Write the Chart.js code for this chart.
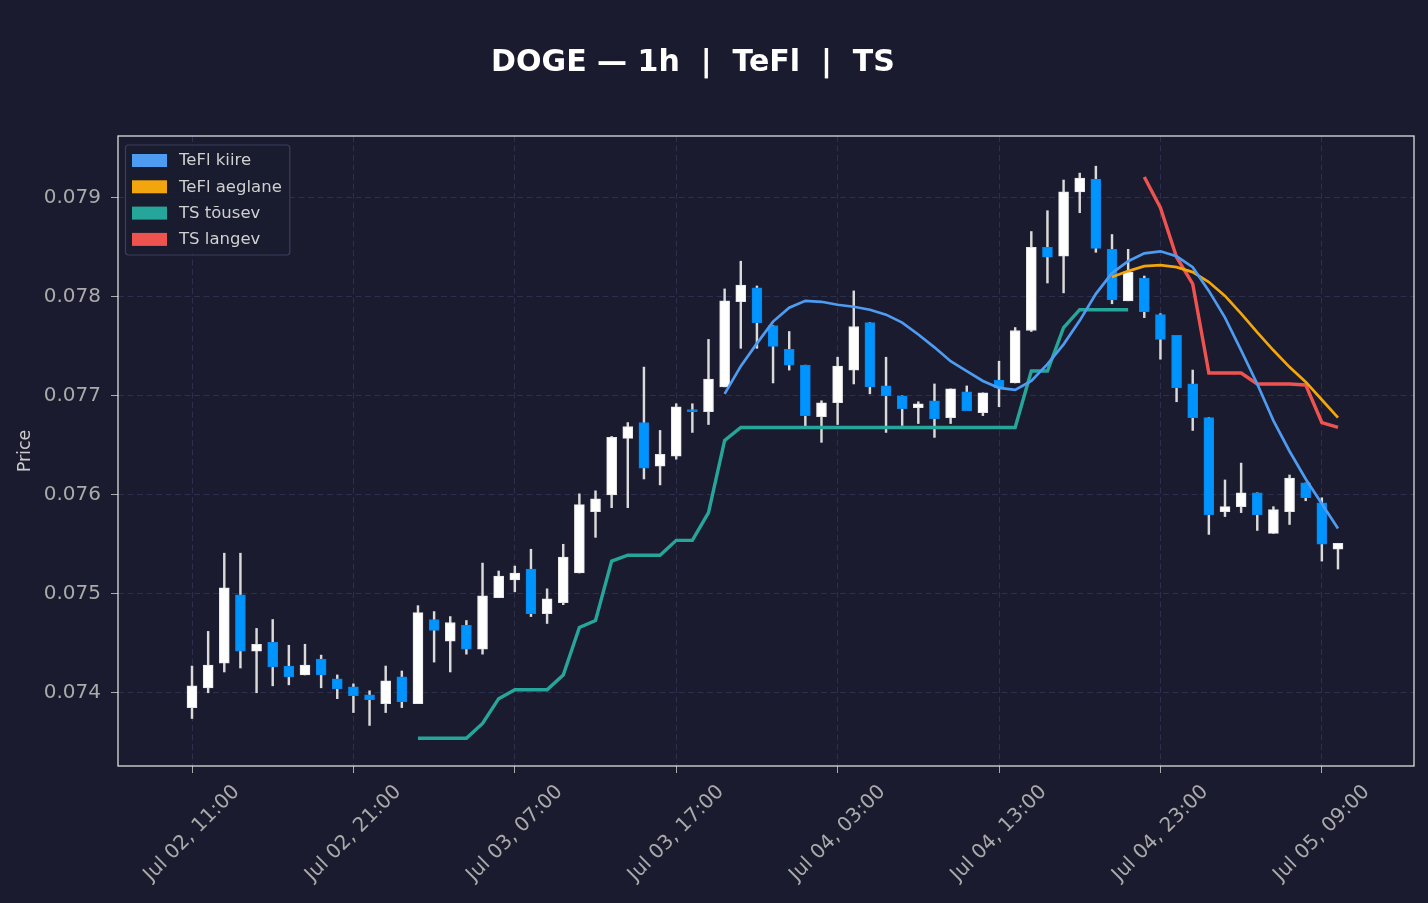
<!DOCTYPE html>
<html>
<head>
<meta charset="utf-8">
<title>DOGE 1h</title>
<script src="https://cdn.jsdelivr.net/npm/chart.js@4.4.1/dist/chart.umd.min.js"></script>
<style>
  html, body { margin: 0; padding: 0; background: #1a1b2e; }
</style>
</head>
<body>
<canvas id="chart" width="1428" height="903"></canvas>
<script>
// hourly candles, index 0 = Jul 02 11:00
const open = [0.07385,0.07405,0.07430,0.07499,0.07442,0.07451,0.07427,0.07418,0.07434,0.07414,
  0.07406,0.07398,0.07389,0.07416,0.07389,0.07474,0.07452,0.07468,0.07444,0.07496,
  0.07514,0.07525,0.07480,0.07491,0.07521,0.07583,0.07600,0.07657,0.07673,0.07629,
  0.07639,0.07686,0.07684,0.07709,0.07795,0.07809,0.07771,0.07747,0.07731,0.07679,
  0.07693,0.07726,0.07774,0.07710,0.07700,0.07688,0.07695,0.07678,0.07704,0.07683,
  0.07716,0.07713,0.07766,0.07850,0.07841,0.07906,0.07919,0.07848,0.07796,0.07819,
  0.07782,0.07761,0.07712,0.07678,0.07583,0.07588,0.07602,0.07561,0.07583,0.07612,
  0.07592,0.07545];
const high = [0.07427,0.07462,0.07541,0.07541,0.07465,0.07474,0.07448,0.07449,0.07438,0.07418,
  0.07409,0.07402,0.07427,0.07422,0.07488,0.07482,0.07477,0.07473,0.07531,0.07523,
  0.07528,0.07545,0.07505,0.07550,0.07601,0.07604,0.07659,0.07673,0.07729,0.07665,
  0.07692,0.07692,0.07757,0.07808,0.07836,0.07811,0.07771,0.07765,0.07731,0.07695,
  0.07739,0.07806,0.07774,0.07739,0.07700,0.07694,0.07712,0.07707,0.07710,0.07703,
  0.07735,0.07769,0.07866,0.07887,0.07918,0.07925,0.07932,0.07863,0.07848,0.07821,
  0.07783,0.07761,0.07726,0.07678,0.07615,0.07632,0.07602,0.07588,0.07620,0.07612,
  0.07597,0.07551];
const low = [0.07374,0.07400,0.07421,0.07425,0.07400,0.07407,0.07408,0.07418,0.07405,0.07394,
  0.07380,0.07367,0.07380,0.07385,0.07389,0.07431,0.07421,0.07439,0.07439,0.07496,
  0.07502,0.07477,0.07470,0.07489,0.07521,0.07557,0.07587,0.07587,0.07616,0.07610,
  0.07636,0.07663,0.07671,0.07709,0.07748,0.07748,0.07713,0.07726,0.07669,0.07653,
  0.07671,0.07712,0.07702,0.07663,0.07670,0.07672,0.07658,0.07672,0.07685,0.07680,
  0.07689,0.07713,0.07765,0.07814,0.07804,0.07885,0.07845,0.07793,0.07796,0.07779,
  0.07737,0.07694,0.07665,0.07560,0.07578,0.07582,0.07564,0.07561,0.07570,0.07594,
  0.07533,0.07525];
const close = [0.07407,0.07428,0.07506,0.07442,0.07449,0.07426,0.07416,0.07428,0.07418,0.07404,
  0.07397,0.07393,0.07412,0.07391,0.07481,0.07463,0.07471,0.07444,0.07498,0.07518,
  0.07521,0.07480,0.07495,0.07537,0.07590,0.07596,0.07658,0.07669,0.07627,0.07641,
  0.07689,0.07684,0.07717,0.07796,0.07812,0.07774,0.07750,0.07731,0.07680,0.07693,
  0.07730,0.07770,0.07709,0.07700,0.07687,0.07692,0.07677,0.07707,0.07685,0.07703,
  0.07708,0.07766,0.07850,0.07840,0.07906,0.07920,0.07849,0.07797,0.07825,0.07785,
  0.07757,0.07708,0.07678,0.07580,0.07588,0.07602,0.07580,0.07585,0.07617,0.07597,
  0.07550,0.07551];

// indicator lines, each begins at the given candle index
const fastStart = 33;
const fast = [0.07702,0.07730,0.07753,0.07775,0.07789,0.07796,0.07795,0.07792,0.07790,0.07787,
  0.07782,0.07774,0.07762,0.07749,0.07735,0.07725,0.07715,0.07708,0.07706,0.07715,
  0.07732,0.07752,0.07776,0.07803,0.07824,0.07836,0.07844,0.07846,0.07841,0.07830,
  0.07806,0.07779,0.07746,0.07712,0.07675,0.07644,0.07616,0.07591,0.07566];
const slowStart = 57;
const slow = [0.07820,0.07826,0.07831,0.07832,0.07830,0.07825,0.07815,0.07801,0.07783,0.07764,
  0.07746,0.07729,0.07714,0.07696,0.07678];
const riseStart = 14;
const rise = [0.07354,0.07354,0.07354,0.07354,0.07369,0.07394,0.07403,0.07403,0.07403,0.07418,
  0.07466,0.07473,0.07533,0.07539,0.07539,0.07539,0.07554,0.07554,0.07582,0.07655,
  0.07668,0.07668,0.07668,0.07668,0.07668,0.07668,0.07668,0.07668,0.07668,0.07668,
  0.07668,0.07668,0.07668,0.07668,0.07668,0.07668,0.07668,0.07668,
  0.07725,0.07725,0.07769,0.07787,0.07787,0.07787,0.07787];
const fallStart = 59;
const fall = [0.07921,0.07890,0.07840,0.07813,0.07723,0.07723,0.07723,0.07712,0.07712,0.07712,
  0.07711,0.07673,0.07668];

const xTickPos = [0, 10, 20, 30, 40, 50, 60, 70];
const xTickLabels = ['Jul 02, 11:00', 'Jul 02, 21:00', 'Jul 03, 07:00', 'Jul 03, 17:00',
  'Jul 04, 03:00', 'Jul 04, 13:00', 'Jul 04, 23:00', 'Jul 05, 09:00'];
const yTicks = [0.074, 0.075, 0.076, 0.077, 0.078, 0.079];

const BG = '#1a1b2e';
const UP = '#ffffff';
const DOWN = '#0094ff';

const wicks = open.map((o, i) => ({ x: i, y: [low[i], high[i]] }));
const bodies = open.map((o, i) => ({ x: i, y: [o, close[i]] }));
const bodyColors = open.map((o, i) => close[i] >= o ? UP : DOWN);
const bodyBorders = open.map((o, i) => close[i] >= o ? '#e6e6e6' : '#0a84e8');
const toPts = (start, arr) => arr.map((v, i) => ({ x: start + i, y: v }));

Chart.defaults.font.family = '"DejaVu Sans", sans-serif';

const bgPlugin = {
    id: 'bg',
    beforeDraw(chart) {
        const ctx = chart.ctx;
        ctx.save();
        ctx.fillStyle = BG;
        ctx.fillRect(0, 0, chart.width, chart.height);
        ctx.restore();
    }
};

const decorPlugin = {
    id: 'decor',
    afterDraw(chart) {
        const ctx = chart.ctx;
        const a = chart.chartArea;
        const sx = chart.scales.x;
        ctx.save();

        // frame round the plot
        ctx.strokeStyle = '#dcdcdc';
        ctx.lineWidth = 1.3;
        ctx.strokeRect(a.left, a.top, a.right - a.left, a.bottom - a.top);

        // title
        ctx.fillStyle = '#ffffff';
        ctx.font = 'bold 30px "DejaVu Sans"';
        ctx.textAlign = 'center';
        ctx.textBaseline = 'middle';
        ctx.fillText('DOGE \u2014 1h  |  TeFl  |  TS', 693, 63);

        // x tick labels, rotated and centred on the tick
        ctx.font = '20px "DejaVu Sans"';
        ctx.fillStyle = '#aaaaaa';
        xTickPos.forEach((v, i) => {
            const w = ctx.measureText(xTickLabels[i]).width;
            const half = (w + 19) / (2 * Math.SQRT2);
            ctx.save();
            ctx.translate(sx.getPixelForValue(v), a.bottom + 16 + half);
            ctx.rotate(-Math.PI / 4);
            ctx.fillText(xTickLabels[i], 0, 0);
            ctx.restore();
        });

        // legend box
        const items = chart.data.datasets.filter(d => d.type === 'line');
        ctx.font = '16.5px "DejaVu Sans"';
        let maxW = 0;
        items.forEach(d => { maxW = Math.max(maxW, ctx.measureText(d.label).width); });
        const bx = a.left + 7.5, by = a.top + 9;
        const bw = 179 - bx + maxW + 8, bh = 110;
        ctx.beginPath();
        ctx.roundRect(bx, by, bw, bh, 3);
        ctx.fillStyle = 'rgba(26,27,46,0.85)';
        ctx.fill();
        ctx.strokeStyle = '#3c3e5c';
        ctx.lineWidth = 1.2;
        ctx.stroke();
        ctx.textAlign = 'left';
        items.forEach((d, i) => {
            ctx.fillStyle = d.borderColor;
            ctx.fillRect(132, 154 + 26.3 * i, 35, 13);
            ctx.fillStyle = '#d0d0d0';
            ctx.fillText(d.label, 179, 161 + 26.3 * i);
        });
        ctx.restore();
    }
};

new Chart(document.getElementById('chart'), {
    type: 'bar',
    data: {
        datasets: [
            { type: 'line', label: 'TeFl kiire', data: toPts(fastStart, fast), borderColor: '#4e9cf2', borderWidth: 2.7, pointRadius: 0, tension: 0, order: 0 },
            { type: 'line', label: 'TeFl aeglane', data: toPts(slowStart, slow), borderColor: '#f2a50c', borderWidth: 2.7, pointRadius: 0, tension: 0, order: 0 },
            { type: 'line', label: 'TS t\u00f5usev', data: toPts(riseStart, rise), borderColor: '#26a69a', borderWidth: 3.4, pointRadius: 0, tension: 0, order: 0 },
            { type: 'line', label: 'TS langev', data: toPts(fallStart, fall), borderColor: '#ef5350', borderWidth: 3.4, pointRadius: 0, tension: 0, order: 0 },
            { label: 'body', data: bodies, backgroundColor: bodyColors, borderColor: bodyBorders, borderWidth: 1, borderSkipped: false, barThickness: 10, minBarLength: 2, grouped: false, order: 1 },
            { label: 'wick', data: wicks, backgroundColor: '#dadada', borderWidth: 0, barThickness: 1.8, grouped: false, order: 2 }
        ]
    },
    options: {
        responsive: false,
        devicePixelRatio: 1,
        animation: false,
        layout: { padding: { top: 136, right: 14, bottom: 0, left: 0 } },
        plugins: {
            legend: { display: false },
            tooltip: { enabled: false },
            title: { display: false }
        },
        scales: {
            x: {
                type: 'linear',
                min: -4.585,
                max: 75.71,
                offset: false,
                afterBuildTicks: s => { s.ticks = xTickPos.map(v => ({ value: v })); },
                afterFit: s => { s.height = 137; },
                ticks: { display: false },
                grid: { offset: false, color: '#2c2f4d', lineWidth: 1, tickLength: 7, tickColor: '#aaaaaa', tickWidth: 1, tickBorderDash: [] },
                border: { display: false, dash: [6, 3.5] }
            },
            y: {
                min: 0.07326,
                max: 0.079625,
                afterBuildTicks: s => { s.ticks = yTicks.map(v => ({ value: v })); },
                afterFit: s => { s.width = 118; },
                ticks: {
                    color: '#aaaaaa',
                    font: { size: 20 },
                    padding: 10,
                    callback: v => Number(v).toFixed(3)
                },
                grid: { color: '#2c2f4d', lineWidth: 1, tickLength: 7, tickColor: '#aaaaaa', tickWidth: 1, tickBorderDash: [] },
                border: { display: false, dash: [6, 3.5] },
                title: { display: true, text: 'Price', color: '#cccccc', font: { size: 17.5 }, padding: { top: 15, bottom: 4 } }
            }
        }
    },
    plugins: [bgPlugin, decorPlugin]
});
</script>
</body>
</html>
